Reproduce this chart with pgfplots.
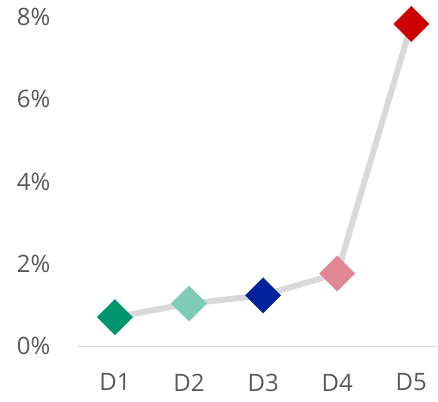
\documentclass[border=0pt]{standalone}
\usepackage{fontspec}
\setmainfont{Open Sans}
\usepackage{pgfplots}
\pgfplotsset{compat=1.18}
\definecolor{tickgray}{HTML}{595959}
\definecolor{linegray}{HTML}{D9D9D9}
\definecolor{cA}{HTML}{00956E}
\definecolor{cB}{HTML}{7FCBB5}
\definecolor{cC}{HTML}{00239C}
\definecolor{cD}{HTML}{E08795}
\definecolor{cE}{HTML}{CC0000}
\begin{document}
\begin{tikzpicture}
\begin{axis}[
  name=main,
  scale only axis,
  width=360pt, height=330pt,
  xmin=0.5, xmax=5.35,
  ymin=0, ymax=8,
  clip=false,
  axis x line=bottom,
  axis y line=left,
  x axis line style={draw=linegray, line width=1.5pt, -},
  y axis line style={draw=none, -},
  xtick={1,2,3,4,5},
  xticklabels={D1,D2,D3,D4,D5},
  major tick length=0pt,
  ytick={0,2,4,6,8},
  yticklabel={\pgfmathprintnumber{\tick}\%},
  /pgf/number format/assume math mode=true,
  ticklabel style={font=\fontsize{24}{28}\selectfont, text=tickgray},
  xticklabel style={yshift=-24pt},
  yticklabel style={xshift=-24pt},
]
\addplot[linegray, line width=6pt, line join=round] coordinates {
  (1,0.71) (2,1.04) (3,1.24) (4,1.77) (5,7.83)
};
\addplot[only marks, mark=square*, mark size=12.5pt, mark options={rotate=45, fill=cA, draw=cA}] coordinates {(1,0.71)};
\addplot[only marks, mark=square*, mark size=12.5pt, mark options={rotate=45, fill=cB, draw=cB}] coordinates {(2,1.04)};
\addplot[only marks, mark=square*, mark size=12.5pt, mark options={rotate=45, fill=cC, draw=cC}] coordinates {(3,1.24)};
\addplot[only marks, mark=square*, mark size=12.5pt, mark options={rotate=45, fill=cD, draw=cD}] coordinates {(4,1.77)};
\addplot[only marks, mark=square*, mark size=12.5pt, mark options={rotate=45, fill=cE, draw=cE}] coordinates {(5,7.83)};
\end{axis}
\path ([xshift=-78pt,yshift=-55pt]main.south west) rectangle ([yshift=17pt]main.north east);
\end{tikzpicture}
\end{document}
